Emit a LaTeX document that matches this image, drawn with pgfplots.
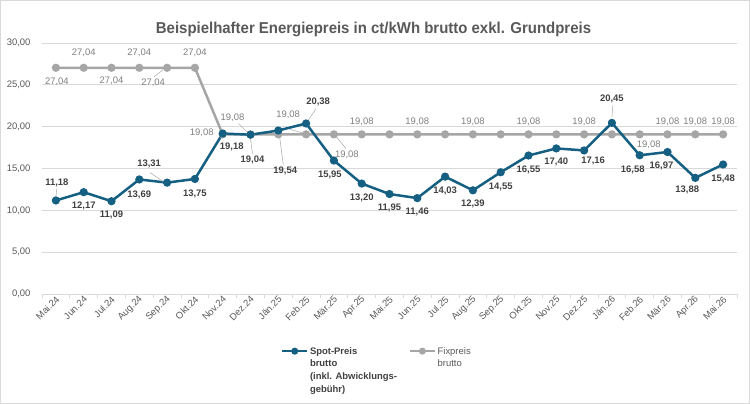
\documentclass[border=0pt]{standalone}
\usepackage{pgfplots}
\pgfplotsset{compat=1.18}
\usepackage{pgfplotstable}
\usepackage{fontspec}
\setmainfont{Liberation Sans}
\newfontfamily\titlefont[FakeStretch=0.95]{Liberation Sans}
\definecolor{spot}{HTML}{156082}
\definecolor{fix}{HTML}{A6A6A6}
\definecolor{txt}{HTML}{595959}
\definecolor{lbl}{HTML}{404040}
\definecolor{flbl}{HTML}{7F7F7F}
\definecolor{gridc}{HTML}{D9D9D9}
\newcommand\lblfont{\fontsize{9.5}{12.7}\selectfont}
\newcommand\spl[5]{\node[font=\lblfont\bfseries, text=lbl, inner sep=0pt] at ([xshift=#3bp,yshift=#4bp]axis cs:#1,#2) {#5};}
\newcommand\fxl[5]{\node[font=\lblfont, text=flbl, inner sep=0pt] at ([xshift=#3bp,yshift=#4bp]axis cs:#1,#2) {#5};}
\newcommand\ld[6]{\draw[fix, line width=0.5bp] ([xshift=#3bp,yshift=#4bp]axis cs:#1,#2) -- ([xshift=#5bp,yshift=#6bp]axis cs:#1,#2);}
\pgfplotstableread{
x spot fix
0 11.18 27.04
1 12.17 27.04
2 11.09 27.04
3 13.69 27.04
4 13.31 27.04
5 13.75 27.04
6 19.18 19.08
7 19.04 19.08
8 19.54 19.08
9 20.38 19.08
10 15.95 19.08
11 13.20 19.08
12 11.95 19.08
13 11.46 19.08
14 14.03 19.08
15 12.39 19.08
16 14.55 19.08
17 16.55 19.08
18 17.40 19.08
19 17.16 19.08
20 20.45 19.08
21 16.58 19.08
22 16.97 19.08
23 13.88 19.08
24 15.48 19.08
}\data
\begin{document}
\begin{tikzpicture}
\useasboundingbox (-42bp,-110bp) rectangle (708bp,294bp);
\begin{axis}[
  scale only axis,
  width=695bp, height=251bp,
  xmin=-0.5, xmax=24.5, ymin=0, ymax=30,
  xtick={0,...,24},
  xticklabels={Mai.24,Jun.24,Jul.24,Aug.24,Sep.24,Okt.24,Nov.24,Dez.24,Jän.25,Feb.25,Mär.25,Apr.25,Mai.25,Jun.25,Jul.25,Aug.25,Sep.25,Okt.25,Nov.25,Dez.25,Jän.26,Feb.26,Mär.26,Apr.26,Mai.26},
  minor xtick={-0.5,0.5,...,24.5},
  ytick={0,5,...,30},
  major tick length=0pt, minor tick length=4bp,
  tick align=outside, xtick pos=bottom, ytick pos=left,
  minor tick style={gridc, line width=0.75bp},
  ymajorgrids, grid style={gridc, line width=0.75bp},
  axis line style={draw=none},
  xticklabel style={rotate=45, anchor=east, font=\lblfont, text=txt, xshift=2bp, yshift=-4bp},
  yticklabel style={font=\lblfont, text=txt, xshift=-8bp,
    /pgf/number format/.cd, fixed, fixed zerofill, precision=2, use comma, assume math mode=true},
  legend style={at={(axis description cs:0.3436,-0.205)}, anchor=north west, draw=none, fill=none,
    font=\lblfont, inner sep=0pt, column sep=0pt,
    cells={anchor=north west, align=left}, nodes={inner sep=1.5bp},
    /tikz/column 2/.style={column sep=10bp}},
  legend columns=2,
  legend image code/.code={\draw[mark repeat=2,mark phase=2,#1] plot coordinates {(0bp,-5.5bp)(12.5bp,-5.5bp)(25bp,-5.5bp)};},
  clip=false,
]
\addplot[fix, line width=2.5bp, mark=*, mark size=2.8bp, mark options={fill=fix, draw=fix}, forget plot] table[x=x,y=fix]{\data};
\addplot[spot, line width=2.5bp, mark=*, mark size=2.8bp, mark options={fill=spot, draw=spot}, forget plot] table[x=x,y=spot]{\data};
\addlegendimage{spot, line width=2.5bp, mark=*, mark size=2.2bp, mark options={fill=spot, draw=spot}}
\addlegendentry[text=lbl, font=\lblfont\bfseries]{Spot-Preis\\brutto\\(inkl. Abwicklungs-\\gebühr)}
\addlegendimage{fix, line width=2.5bp, mark=*, mark size=2.2bp, mark options={fill=fix, draw=fix}}
\addlegendentry[text=txt]{Fixpreis\\brutto}
% leader lines
\ld{0}{11.18}{0}{4}{1}{12}
\ld{4}{13.31}{-4}{1}{-17}{10}
\ld{7}{19.04}{0}{-4}{2}{-19}
\ld{8}{19.54}{1}{-4}{5}{-34}
\ld{9}{20.38}{2}{3}{10}{15}
\ld{20}{20.45}{0}{6}{1}{18}
\ld{7}{19.08}{-12}{11}{-3}{2}
\ld{9}{19.08}{-16}{5}{-2}{1}
\ld{10}{19.08}{2}{-2}{12}{-14}
\ld{4}{27.04}{-4}{-2}{-13}{-9}
% spot labels
\spl{0}{11.18}{1}{18}{11,18}
\spl{1}{12.17}{0}{-14}{12,17}
\spl{2}{11.09}{0}{-14}{11,09}
\spl{3}{13.69}{0}{-15}{13,69}
\spl{4}{13.31}{-18}{19}{13,31}
\spl{5}{13.75}{0}{-15}{13,75}
\spl{6}{19.18}{9}{-13.5}{19,18}
\spl{7}{19.04}{2}{-25}{19,04}
\spl{8}{19.54}{7}{-40}{19,54}
\spl{9}{20.38}{12}{22}{20,38}
\spl{10}{15.95}{-4}{-14.5}{15,95}
\spl{11}{13.20}{0}{-14.5}{13,20}
\spl{12}{11.95}{0}{-14}{11,95}
\spl{13}{11.46}{0}{-14}{11,46}
\spl{14}{14.03}{0}{-14}{14,03}
\spl{15}{12.39}{0}{-14}{12,39}
\spl{16}{14.55}{0}{-15}{14,55}
\spl{17}{16.55}{0}{-14.5}{16,55}
\spl{18}{17.40}{0}{-13.5}{17,40}
\spl{19}{17.16}{9}{-10.5}{17,16}
\spl{20}{20.45}{0}{24}{20,45}
\spl{21}{16.58}{-7}{-15}{16,58}
\spl{22}{16.97}{-6}{-14}{16,97}
\spl{23}{13.88}{-8}{-12}{13,88}
\spl{24}{15.48}{0}{-14.5}{15,48}
% fix labels
\fxl{0}{27.04}{1}{-14}{27,04}
\fxl{1}{27.04}{0}{15}{27,04}
\fxl{2}{27.04}{0}{-13}{27,04}
\fxl{3}{27.04}{0}{15}{27,04}
\fxl{4}{27.04}{-14}{-15}{27,04}
\fxl{5}{27.04}{0}{15}{27,04}
\fxl{6}{19.08}{-21}{2}{19,08}
\fxl{7}{19.08}{-18}{17}{19,08}
\fxl{9}{19.08}{-18}{20}{19,08}
\fxl{10}{19.08}{13}{-20}{19,08}
\fxl{11}{19.08}{0}{13}{19,08}
\fxl{13}{19.08}{0}{13}{19,08}
\fxl{15}{19.08}{0}{13}{19,08}
\fxl{17}{19.08}{0}{13}{19,08}
\fxl{19}{19.08}{0}{13}{19,08}
\fxl{21}{19.08}{9}{-10}{19,08}
\fxl{22}{19.08}{0}{13}{19,08}
\fxl{23}{19.08}{0}{13}{19,08}
\fxl{24}{19.08}{0}{13}{19,08}
\end{axis}
\node[font=\titlefont\bfseries\fontsize{15.8}{18}\selectfont, text=txt, anchor=base] at (331.5bp,260.5bp) {Beispielhafter Energiepreis in ct/kWh brutto exkl. Grundpreis};
\draw[gridc, line width=1bp] (-41.5bp,-109.5bp) rectangle (707.5bp,293.5bp);
\end{tikzpicture}
\end{document}
